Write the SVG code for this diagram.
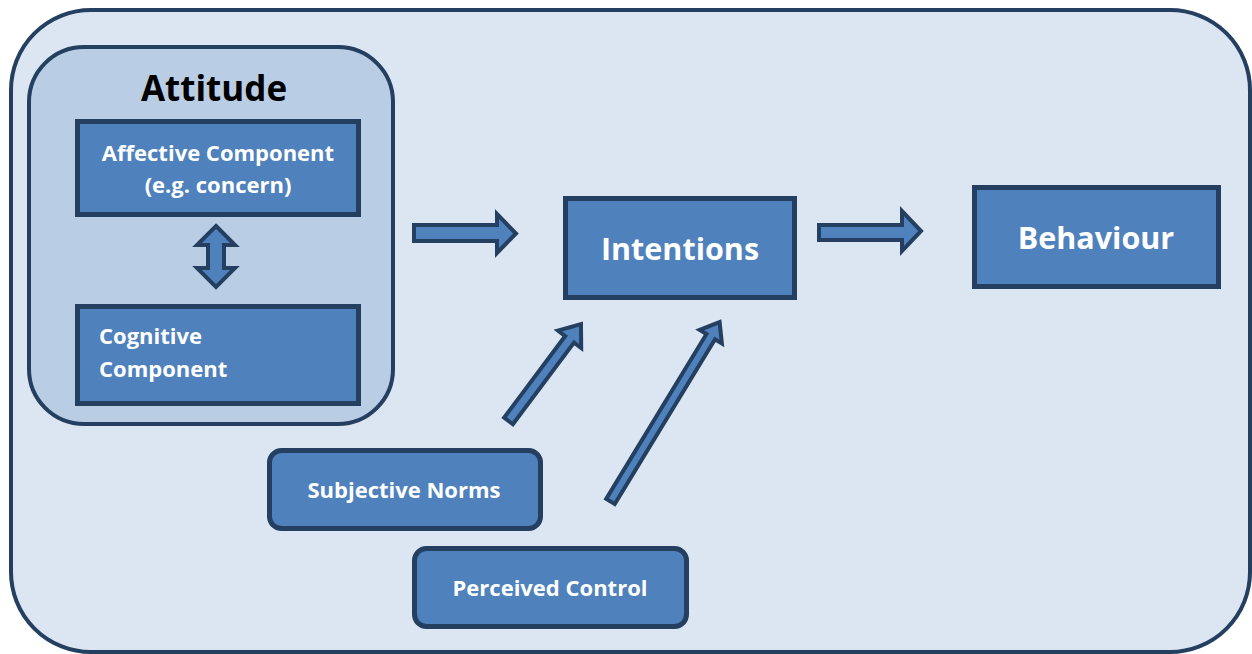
<svg xmlns="http://www.w3.org/2000/svg" width="1252" height="654" viewBox="0 0 1252 654">
<style>
.frame{fill:#DCE6F2;stroke:#243F60;stroke-width:4}
.group{fill:#B9CDE5;stroke:#243F60;stroke-width:4}
.box{fill:#4F81BD;stroke:#243F60;stroke-width:5}
.arrow{fill:#4F81BD;stroke:#243F60;stroke-width:4;stroke-linejoin:miter}
.t{font-family:"Open Sans","Liberation Sans",sans-serif;font-weight:bold;fill:#FFFFFF}
.title{font-family:"Open Sans","Liberation Sans",sans-serif;font-weight:bold;fill:#000000}
</style>
<rect class="frame" x="11" y="10" width="1239" height="642" rx="80" ry="80"/>
<g id="attitude">
<rect class="group" x="29" y="47" width="364" height="377" rx="55" ry="55"/>
<text class="title" x="214" y="101" font-size="35" text-anchor="middle">Attitude</text>
</g>
<g id="affective">
<rect class="box" x="77.5" y="121.5" width="281" height="93"/>
<text class="t" x="218" y="161" font-size="22" text-anchor="middle">Affective Component</text>
<text class="t" x="218" y="193" font-size="22" text-anchor="middle">(e.g. concern)</text>
</g>
<g id="cognitive">
<rect class="box" x="77.5" y="306.5" width="281" height="97"/>
<text class="t" x="99" y="344" font-size="22">Cognitive</text>
<text class="t" x="99" y="377" font-size="22">Component</text>
</g>
<g id="intentions">
<rect class="box" x="565.5" y="198.5" width="229" height="99"/>
<text class="t" x="680" y="260" font-size="30.5" text-anchor="middle">Intentions</text>
</g>
<g id="behaviour">
<rect class="box" x="974.5" y="187.5" width="244" height="99"/>
<text class="t" x="1096" y="249" font-size="30.5" text-anchor="middle">Behaviour</text>
</g>
<g id="subjective-norms">
<rect class="box" x="269.5" y="450.5" width="271" height="78" rx="12" ry="12"/>
<text class="t" x="404" y="498" font-size="22" text-anchor="middle">Subjective Norms</text>
</g>
<g id="perceived-control">
<rect class="box" x="414.5" y="548.5" width="272" height="78" rx="12" ry="12"/>
<text class="t" x="550" y="596" font-size="22" text-anchor="middle">Perceived Control</text>
</g>
<g id="connectors">
<polygon class="arrow" points="216,226 235,245 224,245 224,268 235,268 216,287 197,268 208,268 208,245 197,245"/>
<polygon class="arrow" points="414,225 497,225 497,214 516,233.5 497,253 497,241 414,241"/>
<polygon class="arrow" points="819,225 902,225 902,211 921,231 902,251 902,240 819,240"/>
<g transform="translate(508.5,421) rotate(-53.2)">
<polygon class="arrow" points="0,-5.5 102,-5.5 102,-14.5 121,0 102,14.5 102,5.5 0,5.5"/>
</g>
<g transform="translate(610.5,501.5) rotate(-58.7)">
<polygon class="arrow" points="0,-5 193,-5 193,-13 210,0 193,13 193,5 0,5"/>
</g>
</g>
</svg>
